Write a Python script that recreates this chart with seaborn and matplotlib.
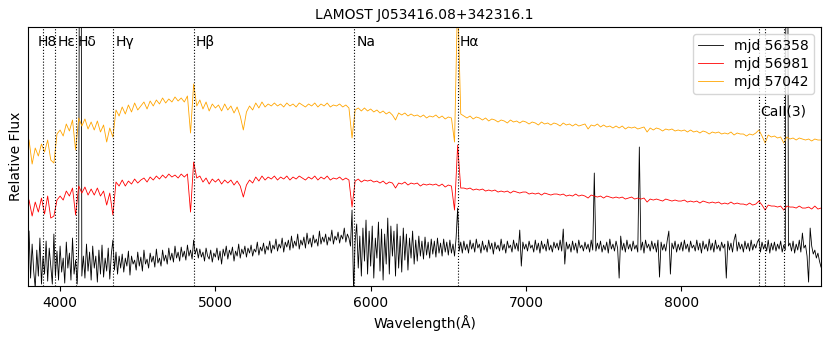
import numpy as np
import pandas as pd
import matplotlib
matplotlib.use("Agg")
import matplotlib.pyplot as plt
import matplotlib.transforms as mtransforms
import seaborn as sns

# spectrum of mjd 56358 (noisy, read every 10 A from 3800 to 8900)
wave_56358 = np.arange(3800, 8901, 10)
flux_56358 = [
    0.55, 0.08, 0.42, 0.15, -0.02, 0.36, 0.10, 0.48, 0.02, 0.30,
    0.12, 0.45, 0.05, 0.38, 0.20, 0.02, 0.52, 0.10, 0.35, 0.06,
    0.40, 0.14, 0.28, 0.03, 0.44, 0.18, 0.33, 0.06, 0.48, 0.12,
    0.26, 0.02, 0.38, 8.00, 0.10, 0.30, 0.08, 0.42, 0.15, 0.34,
    0.06, 0.40, 0.18, 0.30, 0.04, 0.36, 0.12, 0.41, 0.09, 0.28,
    0.15, 0.38, 0.07, 0.32, 0.46, 0.16, 0.34, 0.12, 0.30, 0.18,
    0.32, 0.14, 0.28, 0.20, 0.35, 0.11, 0.30, 0.22, 0.26, 0.16,
    0.34, 0.20, 0.29, 0.15, 0.36, 0.22, 0.27, 0.18, 0.33, 0.24,
    0.30, 0.19, 0.37, 0.23, 0.28, 0.20, 0.36, 0.25, 0.31, 0.22,
    0.38, 0.26, 0.33, 0.24, 0.40, 0.28, 0.34, 0.25, 0.39, 0.29,
    0.35, 0.26, 0.41, 0.30, 0.36, 0.27, 0.46, 0.32, 0.38, 0.28,
    0.37, 0.29, 0.34, 0.25, 0.38, 0.30, 0.27, 0.36, 0.24, 0.33,
    0.29, 0.38, 0.26, 0.35, 0.22, 0.37, 0.30, 0.40, 0.27, 0.36,
    0.31, 0.39, 0.25, 0.35, 0.30, 0.42, 0.28, 0.37, 0.32, 0.40,
    0.29, 0.38, 0.33, 0.41, 0.30, 0.37, 0.34, 0.44, 0.31, 0.39,
    0.35, 0.43, 0.32, 0.40, 0.36, 0.45, 0.33, 0.41, 0.37, 0.47,
    0.35, 0.42, 0.38, 0.48, 0.34, 0.44, 0.39, 0.46, 0.36, 0.50,
    0.38, 0.45, 0.40, 0.52, 0.37, 0.46, 0.41, 0.49, 0.38, 0.53,
    0.42, 0.48, 0.39, 0.51, 0.43, 0.47, 0.40, 0.55, 0.42, 0.49,
    0.44, 0.52, 0.41, 0.49, 0.45, 0.56, 0.42, 0.50, 0.46, 0.54,
    0.43, 0.51, 0.47, 0.58, 0.44, 0.52, 0.48, 0.40, 0.76, -0.05,
    0.45, 0.62, 0.18, 0.50, 0.10, 0.58, 0.25, 0.66, 0.12, 0.55,
    0.20, 0.60, 0.08, 0.48, 0.28, 0.64, 0.15, 0.57, 0.06, 0.52,
    0.22, 0.68, 0.12, 0.60, 0.30, 0.55, 0.10, 0.62, 0.18, 0.50,
    0.14, 0.58, 0.26, 0.52, 0.16, 0.48, 0.28, 0.55, 0.22, 0.46,
    0.25, 0.50, 0.30, 0.45, 0.27, 0.49, 0.31, 0.44, 0.28, 0.47,
    0.32, 0.45, 0.29, 0.48, 0.33, 0.43, 0.30, 0.47, 0.34, 0.44,
    0.31, 0.46, 0.33, 0.42, 0.30, 0.48, 0.78, 0.35, 0.44, 0.33,
    0.45, 0.36, 0.42, 0.33, 0.46, 0.37, 0.43, 0.34, 0.47, 0.38,
    0.42, 0.33, 0.45, 0.36, 0.41, 0.34, 0.46, 0.37, 0.43, 0.32,
    0.44, 0.37, 0.41, 0.35, 0.47, 0.36, 0.42, 0.33, 0.45, 0.38,
    0.41, 0.34, 0.46, 0.37, 0.43, 0.35, 0.56, 0.20, 0.44, 0.37,
    0.42, 0.35, 0.45, 0.38, 0.41, 0.34, 0.46, 0.36, 0.43, 0.33,
    0.45, 0.37, 0.42, 0.35, 0.47, 0.36, 0.41, 0.34, 0.44, 0.38,
    0.43, 0.36, 0.46, 0.35, 0.57, 0.22, 0.44, 0.37, 0.42, 0.34,
    0.45, 0.36, 0.43, 0.33, 0.46, 0.38, 0.41, 0.35, 0.44, 0.37,
    0.42, 0.34, 0.46, 0.36, 1.13, 0.35, 0.43, 0.37, 0.45, 0.34,
    0.41, 0.36, 0.44, 0.33, 0.47, 0.37, 0.42, 0.35, 0.45, 0.38,
    0.08, 0.50, 0.36, 0.43, 0.34, 0.46, 0.37, 0.42, 0.35, 0.45,
    0.37, 0.41, 0.34, 1.39, 0.36, 0.44, 0.33, 0.46, 0.38, 0.42,
    0.35, 0.45, 0.37, 0.43, 0.34, 0.46, 0.09, 0.44, 0.36, 0.42,
    0.35, 0.46, 0.55, 0.12, 0.43, 0.37, 0.45, 0.34, 0.42, 0.36,
    0.44, 0.35, 0.46, 0.37, 0.42, 0.34, 0.45, 0.38, 0.41, 0.35,
    0.46, 0.36, 0.43, 0.33, 0.45, 0.37, 0.42, 0.35, 0.47, 0.36,
    0.43, 0.34, 0.46, 0.37, 0.41, 0.35, 0.44, 0.38, 0.42, 0.08,
    0.45, 0.36, 0.43, 0.34, 0.46, 0.52, 0.35, 0.44, 0.37, 0.42,
    0.34, 0.45, 0.37, 0.43, 0.35, 0.46, 0.36, 0.42, 0.38, 0.44,
    0.47, 0.34, 0.44, 0.37, 0.42, 0.35, 0.46, 0.33, 0.43, 0.36,
    0.44, 0.35, 0.42, 0.37, 0.45, 0.34, 0.41, 0.36, 8.00, 0.40,
    0.43, 0.35, 0.45, 0.33, 0.42, 0.36, 0.46, 0.34, 0.53, 0.38,
    0.41, 0.30, 0.04, 0.58, 0.40, 0.32, 0.36, 0.28, 0.33, 0.25,
    0.19,
]

# spectra of mjd 56981 and mjd 57042, read every 20 A
wave_smooth = np.arange(3800, 8901, 20)
flux_56981 = [
    0.86, 0.70, 0.84, 0.74, 0.88, 0.72, 0.90, 0.68, 0.70, 0.86,
    0.90, 0.86, 0.95, 0.90, 0.98, 0.71, 1.00, 0.93, 0.99, 0.91,
    0.97, 0.91, 0.98, 0.90, 0.95, 0.81, 0.93, 0.71, 1.04, 1.00,
    1.06, 1.00, 1.05, 1.02, 1.07, 1.03, 1.06, 1.08, 1.04, 1.09,
    1.06, 1.10, 1.07, 1.11, 1.08, 1.12, 1.09, 1.11, 1.08, 1.12,
    1.09, 1.12, 0.74, 1.24, 1.08, 1.10, 1.04, 1.08, 1.02, 1.07,
    1.04, 1.07, 1.02, 1.06, 1.03, 1.06, 1.01, 1.05, 1.00, 0.89,
    1.01, 1.06, 1.03, 1.09, 1.05, 1.10, 1.06, 1.09, 1.07, 1.10,
    1.06, 1.09, 1.07, 1.10, 1.06, 1.09, 1.07, 1.10, 1.08, 1.06,
    1.09, 1.07, 1.10, 1.06, 1.09, 1.07, 1.10, 1.06, 1.08, 1.07,
    1.09, 1.06, 1.08, 1.06, 0.79, 1.05, 1.07, 1.04, 1.06, 1.05,
    1.06, 1.04, 1.05, 1.03, 1.05, 1.02, 1.04, 1.03, 0.98, 1.03,
    1.02, 1.04, 1.01, 1.03, 1.02, 1.03, 1.00, 1.02, 1.01, 1.02,
    1.01, 1.02, 1.00, 1.02, 0.99, 1.01, 1.00, 0.76, 1.41, 0.98,
    0.98, 0.97, 0.98, 0.96, 0.97, 0.96, 0.97, 0.95, 0.96, 0.95,
    0.96, 0.94, 0.95, 0.94, 0.95, 0.93, 0.95, 0.94, 0.93, 0.94,
    0.94, 0.92, 0.93, 0.92, 0.93, 0.91, 0.93, 0.92, 0.91, 0.92,
    0.92, 0.91, 0.92, 0.90, 0.91, 0.90, 0.92, 0.90, 0.91, 0.90,
    0.88, 0.91, 0.90, 0.89, 0.90, 0.88, 0.90, 0.89, 0.88, 0.89,
    0.88, 0.89, 0.87, 0.88, 0.89, 0.87, 0.88, 0.87, 0.88, 0.84,
    0.87, 0.86, 0.87, 0.86, 0.85, 0.87, 0.86, 0.85, 0.86, 0.85,
    0.85, 0.86, 0.84, 0.85, 0.84, 0.85, 0.83, 0.85, 0.84, 0.83,
    0.84, 0.83, 0.84, 0.82, 0.83, 0.82, 0.84, 0.82, 0.83, 0.82,
    0.82, 0.81, 0.83, 0.81, 0.82, 0.85, 0.81, 0.76, 0.81, 0.80,
    0.80, 0.79, 0.80, 0.76, 0.80, 0.79, 0.79, 0.78, 0.80, 0.78,
    0.78, 0.79, 0.77, 0.80, 0.77, 0.78,
]
flux_57042 = [
    1.46, 1.22, 1.38, 1.30, 1.42, 1.34, 1.46, 1.26, 1.23, 1.52,
    1.56, 1.50, 1.62, 1.55, 1.66, 1.36, 1.68, 1.60, 1.67, 1.57,
    1.64, 1.56, 1.65, 1.54, 1.61, 1.44, 1.58, 1.49, 1.76, 1.70,
    1.79, 1.72, 1.81, 1.74, 1.83, 1.76, 1.80, 1.84, 1.77, 1.85,
    1.80, 1.86, 1.82, 1.88, 1.83, 1.87, 1.84, 1.89, 1.85, 1.88,
    1.84, 1.90, 1.53, 2.02, 1.80, 1.86, 1.77, 1.84, 1.75, 1.82,
    1.78, 1.81, 1.75, 1.82, 1.76, 1.80, 1.73, 1.79, 1.70, 1.56,
    1.74, 1.80, 1.76, 1.83, 1.78, 1.84, 1.79, 1.82, 1.80, 1.83,
    1.80, 1.82, 1.79, 1.83, 1.80, 1.82, 1.79, 1.83, 1.81, 1.79,
    1.82, 1.80, 1.83, 1.79, 1.82, 1.80, 1.83, 1.79, 1.81, 1.80,
    1.82, 1.79, 1.81, 1.78, 1.48, 1.76, 1.78, 1.75, 1.78, 1.75,
    1.77, 1.74, 1.76, 1.73, 1.75, 1.72, 1.74, 1.71, 1.66, 1.73,
    1.71, 1.73, 1.70, 1.72, 1.70, 1.71, 1.69, 1.71, 1.68, 1.70,
    1.69, 1.71, 1.68, 1.70, 1.67, 1.69, 1.68, 1.44, 2.90, 1.72,
    1.70, 1.68, 1.70, 1.67, 1.69, 1.68, 1.66, 1.68, 1.65, 1.67,
    1.66, 1.64, 1.66, 1.65, 1.63, 1.66, 1.64, 1.65, 1.63, 1.65,
    1.64, 1.62, 1.64, 1.63, 1.61, 1.64, 1.62, 1.63, 1.61, 1.63,
    1.62, 1.60, 1.63, 1.61, 1.62, 1.60, 1.62, 1.60, 1.61, 1.62,
    1.57, 1.61, 1.60, 1.62, 1.59, 1.61, 1.59, 1.60, 1.58, 1.60,
    1.58, 1.60, 1.57, 1.59, 1.58, 1.59, 1.57, 1.58, 1.59, 1.54,
    1.58, 1.56, 1.58, 1.57, 1.55, 1.57, 1.56, 1.57, 1.55, 1.56,
    1.55, 1.56, 1.54, 1.56, 1.54, 1.55, 1.53, 1.55, 1.54, 1.52,
    1.54, 1.53, 1.54, 1.52, 1.53, 1.52, 1.54, 1.51, 1.53, 1.52,
    1.52, 1.50, 1.52, 1.51, 1.53, 1.56, 1.50, 1.43, 1.51, 1.49,
    1.50, 1.48, 1.49, 1.43, 1.49, 1.47, 1.48, 1.46, 1.48, 1.47,
    1.46, 1.47, 1.45, 1.47, 1.46, 1.46,
]

# line markers
line_names = ["H8", "H\u03b5", "H\u03b4", "H\u03b3", "H\u03b2", "Na", "H\u03b1"]
line_waves = [3889, 3970, 4102, 4340, 4861, 5893, 6563]
label_waves = [3855, 3985, 4115, 4355, 4875, 5910, 6575]
ca_waves = [8498, 8542, 8662]

series = [
    ("mjd 56358", wave_56358, flux_56358, "black"),
    ("mjd 56981", wave_smooth, flux_56981, "red"),
    ("mjd 57042", wave_smooth, flux_57042, "orange"),
]

fig, ax = plt.subplots(figsize=(8.31, 3.41), dpi=100)
fig.subplots_adjust(left=0.034, right=0.988, bottom=0.161, top=0.921)

for name, w, f, c in series:
    df = pd.DataFrame({"wave": w, "flux": f})
    sns.lineplot(data=df, x="wave", y="flux", color=c, lw=0.6,
                 label=name, estimator=None, sort=False, ax=ax)

trans = mtransforms.blended_transform_factory(ax.transData, ax.transAxes)
for w in line_waves + ca_waves:
    ax.axvline(w, color="black", ls=":", lw=0.8)
for name, lw_ in zip(line_names, label_waves):
    ax.text(lw_, 0.94, name, transform=trans, ha="left", va="center", fontsize=10)
ax.text(ca_waves[0] + 10, 0.675, "CaII(3)", transform=trans, ha="left", va="center", fontsize=10)

ax.set_xlim(3795, 8900)
ax.set_ylim(0, 2.59)
ax.set_yticks([])
ax.set_xticks([4000, 5000, 6000, 7000, 8000])
ax.set_xlabel("Wavelength(\u00c5)", fontsize=10)
ax.set_ylabel("Relative Flux", fontsize=10)
ax.set_title("LAMOST J053416.08+342316.1", fontsize=10)
ax.legend(loc="upper right", fontsize=10, labelspacing=0.3, handlelength=1.8,
          borderpad=0.35)

plt.savefig("out.png", dpi=100)
